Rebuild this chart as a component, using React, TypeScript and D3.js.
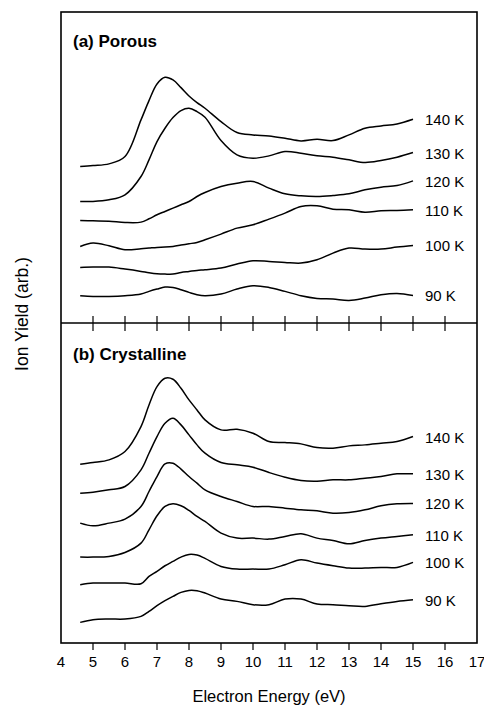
import React from "react";
import * as d3 from "d3";

// energy grid (eV) shared by every trace
const energies = [4.6, 5, 5.5, 6, 6.5, 6.75, 7, 7.25, 7.5, 7.75, 8, 8.25, 8.5, 9, 9.5, 10, 10.5, 11, 11.5, 12, 12.5, 13, 13.5, 14, 14.5, 15];
const temps = ["140 K", "130 K", "120 K", "110 K", "100 K", "90 K"];

// (a) porous ice, ion yield (arb., offsets included)
const porous140 = [56.0, 56.3, 56.8, 59.0, 70.0, 75.8, 80.8, 82.8, 82.0, 79.7, 77.2, 75.2, 73.5, 69.5, 66.2, 65.5, 65.2, 64.5, 63.7, 64.2, 63.8, 65.5, 67.5, 68.2, 68.8, 70.2];
const porous130 = [45.5, 45.5, 46.0, 47.5, 53.0, 58.0, 63.5, 67.5, 70.7, 72.8, 73.5, 72.5, 70.8, 63.8, 59.5, 58.5, 59.2, 60.5, 60.0, 59.2, 58.8, 58.0, 57.2, 57.8, 58.8, 60.2];
const porous120 = [39.8, 39.7, 39.6, 39.2, 39.3, 40.3, 41.5, 42.5, 43.5, 44.5, 45.5, 47.0, 48.2, 50.0, 51.0, 51.5, 49.5, 47.8, 47.2, 47.0, 47.3, 47.8, 49.0, 49.8, 50.3, 51.7];
const porous110 = [32.0, 33.0, 32.2, 31.0, 31.3, 31.5, 31.7, 31.8, 32.0, 32.4, 32.8, 33.2, 34.0, 35.7, 37.5, 38.5, 40.2, 42.0, 44.0, 44.2, 43.2, 43.0, 42.3, 42.7, 42.8, 43.0];
const porous100 = [25.7, 25.8, 25.8, 25.2, 24.5, 24.1, 23.8, 23.7, 23.7, 24.2, 24.5, 24.8, 25.0, 25.5, 26.7, 27.7, 27.5, 27.2, 27.0, 28.0, 30.0, 31.5, 31.2, 31.2, 31.8, 32.3];
const porous90 = [17.2, 17.0, 17.0, 17.2, 17.7, 18.5, 19.2, 19.8, 19.7, 19.0, 18.2, 17.5, 17.2, 17.7, 19.2, 20.2, 19.7, 18.5, 17.2, 16.4, 16.2, 15.8, 16.5, 17.5, 17.9, 17.3];

// (b) crystalline ice
const cryst140 = [56.7, 57.2, 58.0, 60.5, 68.0, 74.5, 80.0, 82.5, 82.2, 79.5, 76.0, 73.0, 70.0, 67.0, 67.2, 66.0, 63.5, 63.2, 62.8, 61.7, 61.5, 62.2, 62.5, 63.0, 63.5, 65.0];
const cryst130 = [48.0, 48.3, 49.0, 50.0, 55.0, 60.0, 65.0, 69.0, 70.5, 68.5, 65.5, 62.5, 60.0, 57.2, 56.5, 55.8, 54.2, 52.8, 51.8, 51.6, 52.0, 52.0, 52.5, 53.0, 53.8, 53.8];
const cryst120 = [39.0, 38.2, 39.0, 40.2, 44.0, 48.5, 53.0, 56.8, 57.0, 55.2, 53.0, 51.0, 49.0, 47.0, 45.5, 44.0, 44.0, 43.5, 43.0, 42.7, 42.0, 42.2, 43.0, 44.2, 44.8, 44.9];
const cryst110 = [28.8, 28.8, 29.0, 30.2, 33.0, 37.0, 41.2, 44.0, 44.8, 44.2, 42.8, 41.0, 39.5, 36.0, 34.5, 34.5, 34.2, 35.0, 35.8, 34.5, 33.8, 32.8, 33.8, 34.5, 35.0, 35.5];
const cryst100 = [20.5, 21.0, 21.0, 21.0, 20.8, 23.0, 24.5, 26.2, 27.5, 28.8, 29.6, 29.4, 28.4, 26.0, 25.2, 25.2, 25.2, 26.5, 28.0, 27.0, 26.2, 25.5, 25.5, 25.7, 25.7, 27.2];
const cryst90 = [9.2, 10.0, 10.2, 10.2, 11.0, 12.5, 14.2, 15.7, 17.0, 18.2, 18.8, 18.7, 18.0, 16.2, 15.5, 14.5, 14.5, 16.2, 16.2, 14.7, 14.5, 14.2, 14.0, 14.8, 15.5, 16.0];

const xTicks = d3.range(4, 18);
const innerTicks = d3.range(5, 17);

const W = 484;
const H = 707;
const left = 61;
const right = 477;
const top = 12;
const mid = 323;
const bottom = 643;

const font = "'Liberation Sans', Arial, sans-serif";

const panels = [
  { title: "(a) Porous", series: [porous140, porous130, porous120, porous110, porous100, porous90], range: [353, 20], titleY: 47 },
  { title: "(b) Crystalline", series: [cryst140, cryst130, cryst120, cryst110, cryst100, cryst90], range: [653, 320], titleY: 360 },
];

export default function App() {
  const x = d3.scaleLinear().domain([4, 17]).range([left, right]);

  return (
    <svg width={W} height={H} style={{ position: "absolute", left: 0, top: 0, background: "#fff" }} fontFamily={font}>
      {/* frame */}
      <rect x={left} y={top} width={right - left} height={bottom - top} fill="none" stroke="#000" strokeWidth={1.6} />
      <line x1={left} x2={right} y1={mid} y2={mid} stroke="#000" strokeWidth={1.6} />

      {/* ticks on the divider */}
      {innerTicks.map(t => (
        <line key={"m" + t} x1={x(t)} x2={x(t)} y1={mid - 7} y2={mid + 8} stroke="#000" strokeWidth={1.2} />
      ))}
      {/* bottom axis */}
      {innerTicks.map(t => (
        <line key={"b" + t} x1={x(t)} x2={x(t)} y1={bottom} y2={bottom + 7} stroke="#000" strokeWidth={1.2} />
      ))}
      {xTicks.map(t => (
        <text key={"l" + t} x={x(t)} y={667} textAnchor="middle" fontSize={15}>{t}</text>
      ))}
      <text x={x(10.5)} y={702} textAnchor="middle" fontSize={16.5}>Electron Energy (eV)</text>
      <text transform="translate(28,314) rotate(-90)" textAnchor="middle" fontSize={17.5}>Ion Yield (arb.)</text>

      {panels.map(p => {
        const y = d3.scaleLinear().domain([0, 100]).range(p.range);
        const line = d3.line<number>()
          .x((_, i) => x(energies[i]))
          .y(v => y(v))
          .curve(d3.curveCatmullRom.alpha(0.5));
        return (
          <g key={p.title}>
            <text x={73} y={p.titleY} fontSize={17} fontWeight="bold">{p.title}</text>
            {p.series.map((s, i) => (
              <g key={temps[i]}>
                <path d={line(s) || ""} fill="none" stroke="#000" strokeWidth={1.5} />
                <text x={x(15) + 12} y={y(s[s.length - 1]) + 6} fontSize={15}>{temps[i]}</text>
              </g>
            ))}
          </g>
        );
      })}
    </svg>
  );
}
